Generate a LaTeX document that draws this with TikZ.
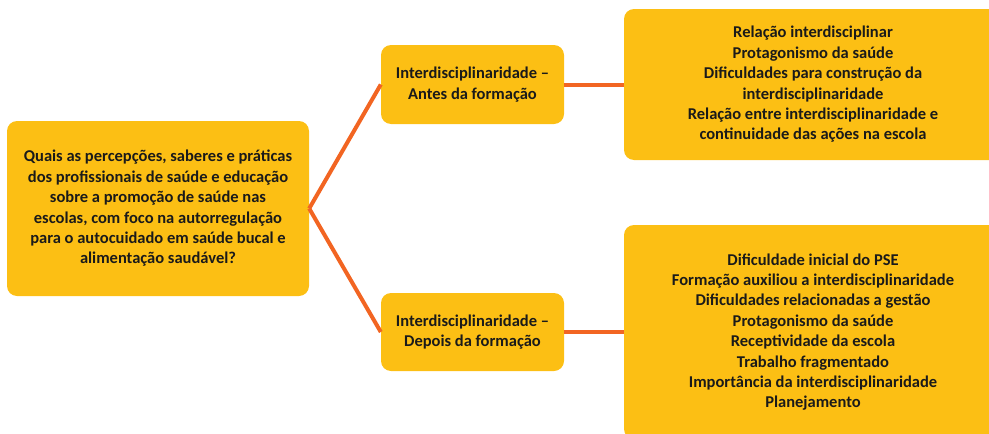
\documentclass[tikz,border=0pt]{standalone}
\usepackage{fontspec}
\setmainfont{Carlito}
\definecolor{boxfill}{RGB}{252,191,20}
\definecolor{linkline}{RGB}{242,101,34}
\definecolor{boxtext}{RGB}{26,26,26}
\tikzset{
  themebox/.style={fill=boxfill, rounded corners=10pt, inner sep=0pt, align=center,
    text=boxtext, font=\bfseries\fontsize{16.5}{20.4}\selectfont},
  link/.style={draw=linkline, line width=4pt}
}
\begin{document}
\begin{tikzpicture}[x=1pt,y=-1pt]
		\useasboundingbox (0,0) rectangle (989,434);
		% research question
		\node[themebox, minimum width=302pt, minimum height=175pt] (q) at (158,208.5)
			{Quais as percepções, saberes e práticas\\dos profissionais de saúde e educação\\sobre a promoção de saúde nas\\escolas, com foco na autorregulação\\para o autocuidado em saúde bucal e\\alimentação saudável?};

		% before / after
		\node[themebox, minimum width=183pt, minimum height=79pt] (antes) at (472.5,84.5)
			{Interdisciplinaridade --\\Antes da formação};
		\node[themebox, minimum width=183pt, minimum height=78pt] (depois) at (472.5,332)
			{Interdisciplinaridade --\\Depois da formação};

		% categories
		\node[themebox, minimum width=378pt, minimum height=151pt] (resA) at (813,84.5)
			{Relação interdisciplinar\\Protagonismo da saúde\\Dificuldades para construção da\\interdisciplinaridade\\Relação entre interdisciplinaridade e\\continuidade das ações na escola};
		\node[themebox, minimum width=378pt, minimum height=214pt] (resD) at (813,332)
			{Dificuldade inicial do PSE\\Formação auxiliou a interdisciplinaridade\\Dificuldades relacionadas a gestão\\Protagonismo da saúde\\Receptividade da escola\\Trabalho fragmentado\\Importância da interdisciplinaridade\\Planejamento};

		\draw[link] (q.east) -- (antes.west);
		\draw[link] (q.east) -- (depois.west);
		\draw[link] (antes.east) -- (resA.west);
		\draw[link] (depois.east) -- (resD.west);
	\end{tikzpicture}
\end{document}
